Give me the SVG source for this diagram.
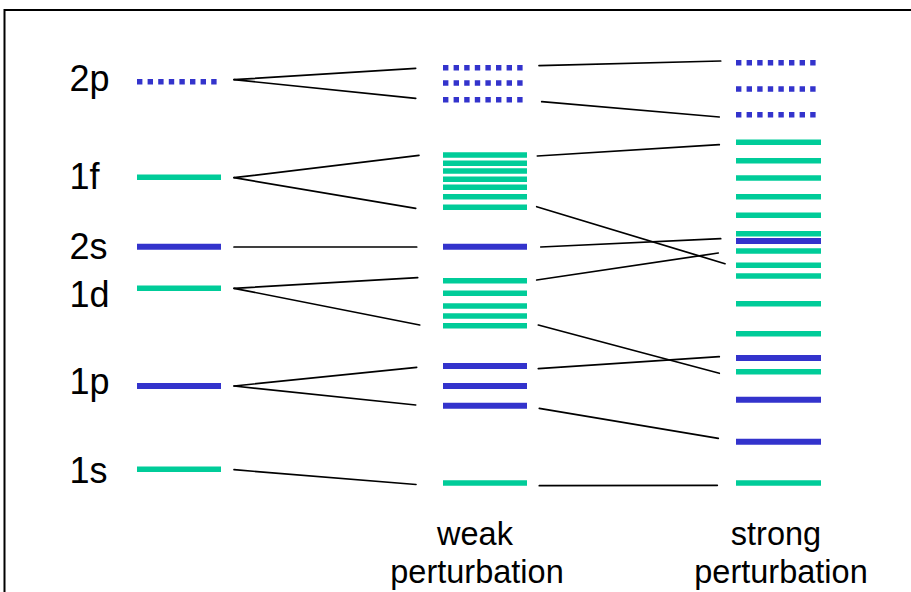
<svg xmlns="http://www.w3.org/2000/svg" width="911" height="592" viewBox="0 0 911 592">
  <style>
    .lbl { font-family: "Liberation Sans", Arial, sans-serif; font-size: 36px; fill: #000; }
    .cap { font-family: "Liberation Sans", Arial, sans-serif; font-size: 32.5px; fill: #000; text-anchor: middle; }
    .s { stroke: #3333cc; stroke-width: 6; fill: none; }
    .p { stroke: #3333cc; stroke-width: 5.6; stroke-dasharray: 5.4 5.2; fill: none; }
    .g { stroke: #00cc99; stroke-width: 5.6; fill: none; }
    .c { stroke: #000; stroke-width: 1.7; fill: none; stroke-linecap: round; }
  </style>

  <rect width="911" height="592" fill="#fff"/>
  <!-- frame -->
  <path d="M4.5 592 V10 H911" fill="none" stroke="#000" stroke-width="2"/>

  <!-- unperturbed levels -->
  <g id="level-2p">
    <text class="lbl" x="69.5" y="91">2p</text>
    <line class="p" x1="137" y1="81.7" x2="218" y2="81.7"/>
  </g>
  <g id="level-1f">
    <text class="lbl" x="69.5" y="188.5">1f</text>
    <line class="g" x1="137" y1="177.3" x2="221" y2="177.3"/>
  </g>
  <g id="level-2s">
    <text class="lbl" x="69.5" y="258.5">2s</text>
    <line class="s" x1="137" y1="246.7" x2="221" y2="246.7"/>
  </g>
  <g id="level-1d">
    <text class="lbl" x="69.5" y="306.7">1d</text>
    <line class="g" x1="137" y1="288.3" x2="221" y2="288.3"/>
  </g>
  <g id="level-1p">
    <text class="lbl" x="69.5" y="393.5">1p</text>
    <line class="s" x1="137" y1="386" x2="221" y2="386"/>
  </g>
  <g id="level-1s">
    <text class="lbl" x="69.5" y="482.7">1s</text>
    <line class="g" x1="137" y1="469.3" x2="221" y2="469.3"/>
  </g>

  <!-- weak perturbation -->
  <g id="weak-2p">
    <line class="p" x1="443" y1="67.7" x2="525" y2="67.7"/>
    <line class="p" x1="443" y1="83" x2="525" y2="83"/>
    <line class="p" x1="443" y1="99.7" x2="525" y2="99.7"/>
  </g>
  <g id="weak-1f">
    <line class="g" x1="443" y1="155" x2="527" y2="155"/>
    <line class="g" x1="443" y1="163.3" x2="527" y2="163.3"/>
    <line class="g" x1="443" y1="171" x2="527" y2="171"/>
    <line class="g" x1="443" y1="179.3" x2="527" y2="179.3"/>
    <line class="g" x1="443" y1="187.3" x2="527" y2="187.3"/>
    <line class="g" x1="443" y1="196.7" x2="527" y2="196.7"/>
    <line class="g" x1="443" y1="207.3" x2="527" y2="207.3"/>
  </g>
  <g id="weak-2s">
    <line class="s" x1="443" y1="246.7" x2="527" y2="246.7"/>
  </g>
  <g id="weak-1d">
    <line class="g" x1="443" y1="280.7" x2="527" y2="280.7"/>
    <line class="g" x1="443" y1="293.3" x2="527" y2="293.3"/>
    <line class="g" x1="443" y1="306" x2="527" y2="306"/>
    <line class="g" x1="443" y1="316" x2="527" y2="316"/>
    <line class="g" x1="443" y1="325.7" x2="527" y2="325.7"/>
  </g>
  <g id="weak-1p">
    <line class="s" x1="443" y1="366" x2="527" y2="366"/>
    <line class="s" x1="443" y1="386" x2="527" y2="386"/>
    <line class="s" x1="443" y1="405.7" x2="527" y2="405.7"/>
  </g>
  <g id="weak-1s">
    <line class="g" x1="443" y1="483" x2="527" y2="483"/>
  </g>
  <g id="weak-label">
    <text class="cap" x="475" y="544.5">weak</text>
    <text class="cap" x="477" y="583">perturbation</text>
  </g>

  <!-- strong perturbation -->
  <g id="strong-2p">
    <line class="p" x1="736" y1="62.7" x2="818" y2="62.7"/>
    <line class="p" x1="736" y1="89" x2="818" y2="89"/>
    <line class="p" x1="736" y1="114.7" x2="818" y2="114.7"/>
  </g>
  <g id="strong-1f">
    <line class="g" x1="736" y1="142.3" x2="821" y2="142.3"/>
    <line class="g" x1="736" y1="160.7" x2="821" y2="160.7"/>
    <line class="g" x1="736" y1="178" x2="821" y2="178"/>
    <line class="g" x1="736" y1="196.7" x2="821" y2="196.7"/>
    <line class="g" x1="736" y1="215.3" x2="821" y2="215.3"/>
    <line class="g" x1="736" y1="233.7" x2="821" y2="233.7"/>
    <line class="g" x1="736" y1="265.3" x2="821" y2="265.3"/>
  </g>
  <g id="strong-2s">
    <line class="s" x1="736" y1="241" x2="821" y2="241"/>
  </g>
  <g id="strong-1d">
    <line class="g" x1="736" y1="251" x2="821" y2="251"/>
    <line class="g" x1="736" y1="276" x2="821" y2="276"/>
    <line class="g" x1="736" y1="303.7" x2="821" y2="303.7"/>
    <line class="g" x1="736" y1="333.7" x2="821" y2="333.7"/>
    <line class="g" x1="736" y1="371.7" x2="821" y2="371.7"/>
  </g>
  <g id="strong-1p">
    <line class="s" x1="736" y1="358" x2="821" y2="358"/>
    <line class="s" x1="736" y1="399.7" x2="821" y2="399.7"/>
    <line class="s" x1="736" y1="441.7" x2="821" y2="441.7"/>
  </g>
  <g id="strong-1s">
    <line class="g" x1="736" y1="483" x2="821" y2="483"/>
  </g>
  <g id="strong-label">
    <text class="cap" x="776" y="544.5">strong</text>
    <text class="cap" x="781" y="583">perturbation</text>
  </g>

  <!-- correlation lines -->
  <g id="connectors">
    <line class="c" x1="234" y1="79.7" x2="415.7" y2="68.3"/>
    <line class="c" x1="234" y1="79.7" x2="415.7" y2="98.3"/>
    <line class="c" x1="234" y1="177.7" x2="419" y2="155.3"/>
    <line class="c" x1="234" y1="177.7" x2="415.7" y2="208.3"/>
    <line class="c" x1="234" y1="247" x2="416.7" y2="247"/>
    <line class="c" x1="234" y1="288.3" x2="417.7" y2="277.7"/>
    <line class="c" x1="234" y1="288.3" x2="419.7" y2="325"/>
    <line class="c" x1="234" y1="386" x2="416.7" y2="367.3"/>
    <line class="c" x1="234" y1="386" x2="415.7" y2="405"/>
    <line class="c" x1="234" y1="469.7" x2="416" y2="484.5"/>

    <line class="c" x1="539" y1="65.7" x2="720.7" y2="61"/>
    <line class="c" x1="541.7" y1="101.7" x2="719.3" y2="117"/>
    <line class="c" x1="537.3" y1="156" x2="719.3" y2="144.7"/>
    <line class="c" x1="536.7" y1="206.7" x2="725" y2="263.7"/>
    <line class="c" x1="540.7" y1="247" x2="720.7" y2="238.7"/>
    <line class="c" x1="536.7" y1="280" x2="718.3" y2="253"/>
    <line class="c" x1="538.3" y1="325" x2="719.3" y2="373.3"/>
    <line class="c" x1="538.3" y1="368.7" x2="719.3" y2="356.7"/>
    <line class="c" x1="539.3" y1="408.3" x2="718.3" y2="438.3"/>
    <line class="c" x1="539.3" y1="485.7" x2="717.3" y2="485.3"/>
  </g>
</svg>
